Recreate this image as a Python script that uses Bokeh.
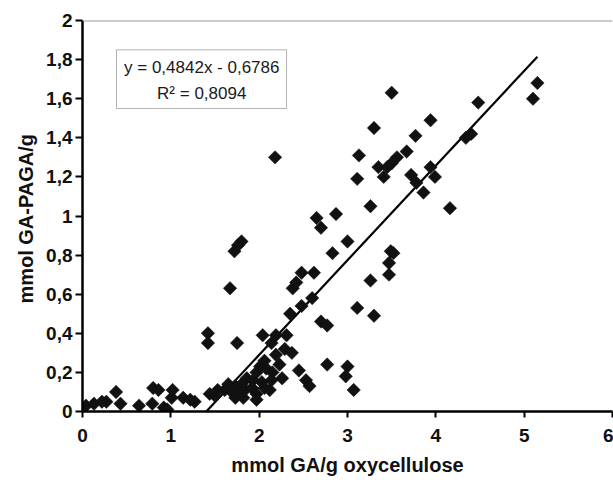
import numpy as np
from bokeh.plotting import figure
from bokeh.models import (Range1d, FixedTicker, CustomJSTickFormatter, BoxAnnotation,
                          Label, Span, ColumnDataSource)
from bokeh.embed import file_html
from bokeh.resources import INLINE

# ---- data ----
ga_x = [0.04, 0.13, 0.22, 0.27, 0.38, 0.43, 0.64, 0.79, 0.80, 0.86, 0.92, 0.96, 1.02, 1.01,
        1.14, 1.22, 1.27,
        1.44, 1.42, 1.42, 1.67, 1.75, 1.72, 1.76, 1.80, 2.18,
        1.50, 1.53, 1.61, 1.65, 1.69, 1.73, 1.73, 1.76, 1.80, 1.82, 1.84, 1.86, 1.92, 1.93,
        1.97, 1.97, 1.97, 2.01, 2.03, 2.04, 2.06, 2.06, 2.08, 2.12, 2.14, 2.14, 2.15, 2.19,
        2.19, 2.23, 2.26, 2.29, 2.31, 2.35, 2.37, 2.38, 2.42, 2.45, 2.48, 2.53, 2.57, 2.60,
        2.48, 2.62, 2.65, 2.70, 2.87, 3.00, 2.83, 2.70, 2.77, 2.77, 3.00, 2.98, 3.07, 3.11,
        3.30, 3.26, 3.47, 3.47, 3.49, 3.52, 3.26, 3.11, 3.13, 3.30, 3.50, 3.35, 3.41, 3.45,
        3.50, 3.56, 3.67, 3.72, 3.78, 3.86, 3.77, 3.94, 3.94, 3.99, 4.16, 4.34, 4.40, 4.48,
        5.10, 5.15]
paga_y = [0.03, 0.04, 0.05, 0.05, 0.10, 0.04, 0.03, 0.04, 0.12, 0.11, 0.02, 0.01, 0.11, 0.07,
          0.07, 0.06, 0.05,
          0.09, 0.40, 0.35, 0.63, 0.35, 0.82, 0.85, 0.87, 1.30,
          0.08, 0.11, 0.11, 0.14, 0.10, 0.13, 0.07, 0.09, 0.14, 0.07, 0.11, 0.17, 0.12, 0.16,
          0.09, 0.06, 0.20, 0.23, 0.15, 0.39, 0.26, 0.12, 0.22, 0.11, 0.35, 0.16, 0.20, 0.39,
          0.29, 0.24, 0.17, 0.32, 0.39, 0.50, 0.30, 0.63, 0.66, 0.21, 0.54, 0.16, 0.13, 0.58,
          0.71, 0.71, 0.99, 0.94, 1.01, 0.87, 0.81, 0.46, 0.44, 0.24, 0.23, 0.18, 0.11, 0.53,
          0.49, 0.67, 0.70, 0.76, 0.82, 0.81, 1.05, 1.19, 1.31, 1.45, 1.63, 1.25, 1.20, 1.25,
          1.27, 1.30, 1.33, 1.21, 1.17, 1.12, 1.41, 1.49, 1.25, 1.20, 1.04, 1.40, 1.42, 1.58,
          1.60, 1.68]
slope = 0.4842
intercept = -0.6786
r_squared = 0.8094
x_ticks = [0, 1, 2, 3, 4, 5, 6]
y_ticks = [0, 0.2, 0.4, 0.6, 0.8, 1.0, 1.2, 1.4, 1.6, 1.8, 2.0]
x_title = "mmol GA/g oxycellulose"
y_title = "mmol  GA-PAGA/g"

FONT = "Liberation Sans"

p = figure(width=613, height=485, output_backend="svg", toolbar_location=None,
           x_range=Range1d(0, 6), y_range=Range1d(0, 2),
           min_border_left=82, min_border_right=1, min_border_top=20, min_border_bottom=74)
p.outline_line_color = None
p.grid.grid_line_color = None
p.background_fill_color = "white"
p.border_fill_color = "white"

comma_fmt = CustomJSTickFormatter(code="""
var s = (Math.round(tick*10)/10).toString();
return s.replace('.', ',');
""")

for ax, ticks in ((p.xaxis[0], x_ticks), (p.yaxis[0], y_ticks)):
    ax.ticker = FixedTicker(ticks=ticks)
    ax.formatter = comma_fmt
    ax.axis_line_color = "black"
    ax.axis_line_width = 2.5
    ax.major_tick_line_color = "black"
    ax.major_tick_line_width = 2
    ax.major_tick_in = 0
    ax.minor_tick_line_color = None
    ax.major_label_text_font = FONT
    ax.major_label_text_font_style = "bold"
    ax.major_label_text_font_size = "19px"
    ax.major_label_text_color = "#111111"
    ax.axis_label_text_font = FONT
    ax.axis_label_text_font_style = "bold"
    ax.axis_label_text_font_size = "20px"
    ax.axis_label_text_color = "#111111"

p.xaxis.major_tick_out = 6
p.xaxis.major_label_standoff = 11
p.xaxis.axis_label = x_title
p.xaxis.axis_label_standoff = 9
p.yaxis.major_tick_out = 7
p.yaxis.major_label_standoff = 3
p.yaxis.axis_label = y_title
p.yaxis.axis_label_standoff = 6

# top border of plot area
p.add_layout(Span(location=2, dimension="width", line_color="#9a9a9a", line_width=2))

# trend line from the regression equation
x0 = -intercept / slope
x1 = max(ga_x)
p.line([x0, x1], [slope * x0 + intercept, slope * x1 + intercept],
       line_color="black", line_width=2.2)

src = ColumnDataSource(dict(x=ga_x, y=paga_y))
p.scatter("x", "y", source=src, marker="square", angle=np.pi / 4, size=9.5,
          fill_color="#111111", line_color="#111111", line_width=0.5)

# equation box
p.add_layout(BoxAnnotation(left=0.385, right=2.31, bottom=1.55, top=1.85,
                           fill_color="white", fill_alpha=1, line_color="black",
                           line_width=1, level="overlay"))
eq_text = "y = " + str(slope).replace('.', ',') + "x - " + str(-intercept).replace('.', ',')
r2_text = "R² = " + str(r_squared).replace('.', ',')
for txt, yy in ((eq_text, 1.76), (r2_text, 1.625)):
    p.add_layout(Label(x=1.35, y=yy, text=txt, text_align="center", text_baseline="middle",
                       text_font=FONT, text_font_size="17px", text_color="#1a1a1a",
                       level="overlay"))

open("out.html", "w").write(file_html(p, INLINE))
